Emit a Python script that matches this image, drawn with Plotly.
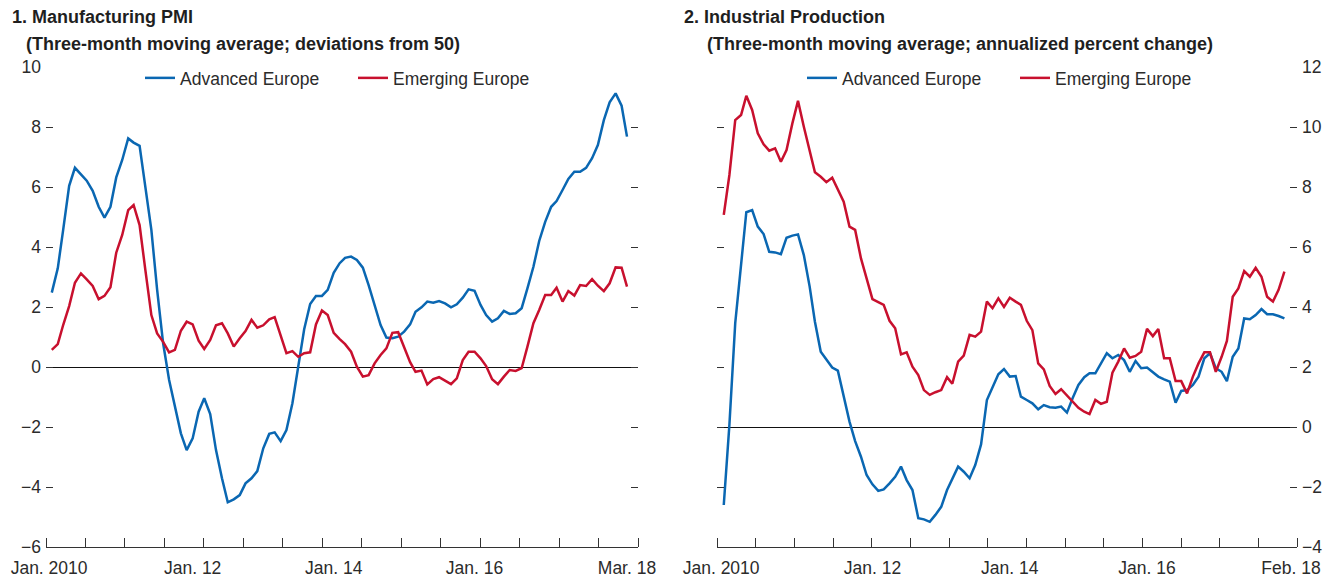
import pandas as pd
import plotly.graph_objects as go

# monthly data
pmi_dates = pd.date_range("2010-01-01", periods=99, freq="MS")
pmi_advanced = [2.48, 3.29, 4.57, 6.04, 6.64, 6.43, 6.21, 5.87, 5.34, 4.98,
                5.34, 6.32, 6.9, 7.62, 7.48, 7.37, 6.01, 4.57, 2.57, 0.79,
                -0.43, -1.32, -2.21, -2.77, -2.38, -1.49, -1.04, -1.57, -2.77, -3.71,
                -4.51, -4.41, -4.27, -3.88, -3.71, -3.47, -2.71, -2.23, -2.18, -2.47,
                -2.1, -1.21, 0.01, 1.26, 2.1, 2.37, 2.37, 2.57, 3.14, 3.46,
                3.64, 3.68, 3.57, 3.31, 2.73, 2.07, 1.4, 0.98, 0.96, 1.01,
                1.18, 1.42, 1.84, 1.99, 2.18, 2.14, 2.2, 2.12, 1.99, 2.09,
                2.31, 2.59, 2.54, 2.07, 1.73, 1.51, 1.62, 1.87, 1.77, 1.79,
                1.96, 2.62, 3.34, 4.2, 4.84, 5.34, 5.53, 5.9, 6.27, 6.51,
                6.51, 6.64, 6.96, 7.4, 8.23, 8.82, 9.12, 8.71, 7.68]
pmi_emerging = [0.57, 0.76, 1.4, 2.03, 2.81, 3.12, 2.92, 2.7, 2.26, 2.37,
                2.66, 3.81, 4.4, 5.23, 5.4, 4.73, 3.23, 1.73, 1.12, 0.84,
                0.49, 0.57, 1.21, 1.51, 1.42, 0.88, 0.6, 0.9, 1.39, 1.46,
                1.12, 0.68, 0.96, 1.2, 1.57, 1.31, 1.39, 1.59, 1.66, 1.04,
                0.46, 0.53, 0.34, 0.46, 0.49, 1.42, 1.88, 1.73, 1.14, 0.93,
                0.76, 0.51, 0.01, -0.32, -0.27, 0.12, 0.4, 0.62, 1.14, 1.16,
                0.68, 0.16, -0.16, -0.12, -0.58, -0.4, -0.34, -0.46, -0.57, -0.38,
                0.23, 0.51, 0.51, 0.29, 0.03, -0.41, -0.57, -0.32, -0.1, -0.13,
                -0.04, 0.68, 1.46, 1.9, 2.4, 2.4, 2.64, 2.18, 2.53, 2.38,
                2.73, 2.7, 2.93, 2.71, 2.53, 2.79, 3.32, 3.31, 2.68]

ip_dates = pd.date_range("2009-11-01", periods=99, freq="MS")
ip_advanced = [-2.6, 0.07, 3.46, 5.51, 7.16, 7.23, 6.68, 6.43, 5.84, 5.82,
               5.76, 6.31, 6.38, 6.42, 5.73, 4.68, 3.51, 2.51, 2.23, 1.98,
               1.88, 1.01, 0.18, -0.47, -0.99, -1.6, -1.91, -2.13, -2.08, -1.88,
               -1.66, -1.32, -1.77, -2.1, -3.04, -3.08, -3.16, -2.93, -2.66, -2.1,
               -1.71, -1.32, -1.49, -1.71, -1.27, -0.58, 0.9, 1.34, 1.76, 1.93,
               1.68, 1.7, 1.01, 0.9, 0.79, 0.59, 0.73, 0.66, 0.64, 0.68,
               0.48, 0.96, 1.4, 1.66, 1.79, 1.79, 2.12, 2.46, 2.29, 2.4,
               2.23, 1.84, 2.2, 1.96, 1.98, 1.81, 1.68, 1.59, 1.51, 0.81,
               1.2, 1.23, 1.4, 1.68, 2.29, 2.46, 1.96, 1.84, 1.53, 2.34,
               2.62, 3.62, 3.59, 3.73, 3.93, 3.76, 3.76, 3.7, 3.62]
ip_emerging = [7.07, 8.4, 10.23, 10.4, 11.04, 10.57, 9.79, 9.42, 9.21, 9.29,
               8.84, 9.23, 10.12, 10.87, 10.01, 9.23, 8.49, 8.34, 8.16, 8.31,
               7.93, 7.51, 6.68, 6.57, 5.62, 4.96, 4.26, 4.16, 4.07, 3.54,
               3.29, 2.42, 2.49, 2.01, 1.73, 1.23, 1.07, 1.16, 1.23, 1.66,
               1.44, 2.18, 2.38, 3.07, 3.01, 3.18, 4.18, 3.96, 4.29, 4.0,
               4.31, 4.18, 4.07, 3.54, 3.23, 2.12, 1.92, 1.37, 1.1, 1.26,
               1.04, 0.84, 0.64, 0.51, 0.43, 0.9, 0.77, 0.84, 1.81, 2.18,
               2.62, 2.31, 2.37, 2.51, 3.27, 3.03, 3.27, 2.29, 2.29, 1.53,
               1.53, 1.12, 1.68, 2.12, 2.49, 2.49, 1.84, 2.34, 2.87, 4.34,
               4.62, 5.2, 5.01, 5.31, 5.01, 4.34, 4.18, 4.57, 5.18]

pmi_range = ["2009-12-02", "2018-04-27"]
ip_range = ["2009-09-26", "2018-03-09"]
pmi_labels = ["Jan. 2010", "Jan. 12", "Jan. 14", "Jan. 16", "Mar. 18"]
pmi_label_dates = ["2009-12-18", "2012-01-01", "2014-01-01", "2016-01-01", "2018-03-01"]
ip_labels = ["Jan. 2010", "Jan. 12", "Jan. 14", "Jan. 16", "Feb. 18"]
ip_label_dates = ["2009-10-18", "2012-01-01", "2014-01-01", "2016-01-01", "2018-02-05"]

BLUE = "#0a67b2"
RED = "#c8102e"
TXT = "#2b2b2b"
FONT = "Liberation Sans, Arial, sans-serif"
W, H = 1331, 584
OFF = 8  # page body margin


def fx(px):
    return (px - OFF) / W


def fy(py):
    return 1 - (py - OFF) / H


fig = go.Figure()
fig.add_trace(go.Scatter(x=pmi_dates, y=pmi_advanced, name="Advanced Europe", mode="lines",
                         line=dict(color=BLUE, width=2.5), xaxis="x", yaxis="y", legend="legend"))
fig.add_trace(go.Scatter(x=pmi_dates, y=pmi_emerging, name="Emerging Europe", mode="lines",
                         line=dict(color=RED, width=2.5), xaxis="x", yaxis="y", legend="legend"))
fig.add_trace(go.Scatter(x=ip_dates, y=ip_advanced, name="Advanced Europe", mode="lines",
                         line=dict(color=BLUE, width=2.5), xaxis="x2", yaxis="y2", legend="legend2"))
fig.add_trace(go.Scatter(x=ip_dates, y=ip_emerging, name="Emerging Europe", mode="lines",
                         line=dict(color=RED, width=2.5), xaxis="x2", yaxis="y2", legend="legend2"))


def xaxis_style(rng, vals, text):
    marks = pd.date_range(rng[0], rng[1], periods=16)
    return dict(type="date", range=rng, tickvals=vals, ticktext=text, ticks="",
                automargin=False, showgrid=False, zeroline=False,
                showline=True, linecolor="#333", linewidth=1.3,
                tickfont=dict(family=FONT, size=17.5, color=TXT), ticklabelstandoff=5,
                minor=dict(tickvals=list(marks), ticks="inside", ticklen=9, tickwidth=1.3,
                           tickcolor="#333", showgrid=False))


def yaxis_style(rng):
    return dict(range=rng, dtick=2, tick0=0, ticks="inside", ticklen=7, tickwidth=1.2,
                tickcolor="#333", mirror="ticks", showline=False, showgrid=False,
                automargin=False, zeroline=True, zerolinecolor="#111", zerolinewidth=1.1,
                ticklabelstandoff=4, tickfont=dict(family=FONT, size=17.5, color=TXT))


fig.update_layout(
    width=W, height=H, autosize=False,
    margin=dict(l=0, r=0, t=0, b=0),
    paper_bgcolor="white", plot_bgcolor="white",
    font=dict(family=FONT, color=TXT),
    xaxis=dict(domain=[fx(46), fx(638)], anchor="y", **xaxis_style(pmi_range, pmi_label_dates, pmi_labels)),
    yaxis=dict(domain=[fy(547), fy(67)], anchor="x", **yaxis_style([-6, 10])),
    xaxis2=dict(domain=[fx(717), fx(1297)], anchor="y2", **xaxis_style(ip_range, ip_label_dates, ip_labels)),
    yaxis2=dict(domain=[fy(547), fy(67)], anchor="x2", side="right", **yaxis_style([-4, 12])),
    legend=dict(orientation="h", x=fx(140), y=fy(78), xanchor="left", yanchor="middle",
                font=dict(family=FONT, size=17.5, color=TXT), bgcolor="rgba(0,0,0,0)",
                entrywidth=168, entrywidthmode="pixels"),
    legend2=dict(orientation="h", x=fx(802), y=fy(78), xanchor="left", yanchor="middle",
                 font=dict(family=FONT, size=17.5, color=TXT), bgcolor="rgba(0,0,0,0)",
                 entrywidth=168, entrywidthmode="pixels"),
)

titles = [
    (10, 17, "<b>1. Manufacturing PMI</b>"),
    (24, 44, "<b>(Three-month moving average; deviations from 50)</b>"),
    (682, 17, "<b>2. Industrial Production</b>"),
    (705, 44, "<b>(Three-month moving average; annualized percent change)</b>"),
]
for px, py, txt in titles:
    fig.add_annotation(x=fx(px), y=fy(py), xref="paper", yref="paper", text=txt,
                       showarrow=False, xanchor="left", yanchor="middle",
                       font=dict(family=FONT, size=18, color="#1f1f1f"))

fig.write_html("out.html")
